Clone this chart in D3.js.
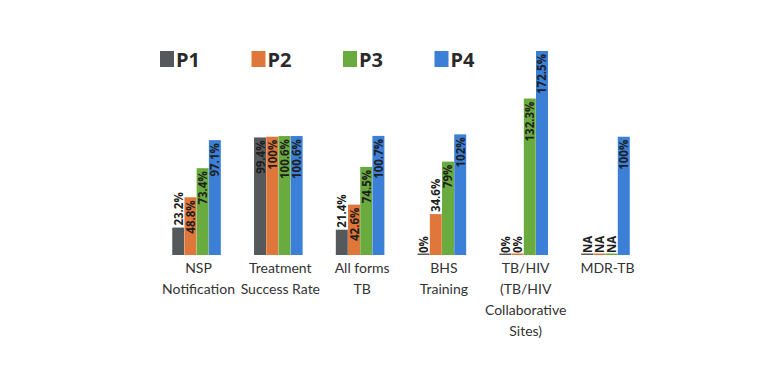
<!DOCTYPE html>
<html>
<head>
<meta charset="utf-8">
<script src="https://cdn.jsdelivr.net/npm/d3@7"></script>
<style>
  body { margin: 0; background: #fff; }
  svg { display: block; font-family: "Open Sans", sans-serif; }
</style>
</head>
<body>
<svg width="780" height="390"></svg>
<script>
"use strict";

const categories = [
    ["NSP", "Notification"],
    ["Treatment", "Success Rate"],
    ["All forms", "TB"],
    ["BHS", "Training"],
    ["TB/HIV", "(TB/HIV", "Collaborative", "Sites)"],
    ["MDR-TB"]
];
const seriesNames = ["P1", "P2", "P3", "P4"];
const p1 = [23.2, 99.4, 21.4, 0, 0, null];
const p2 = [48.8, 100, 42.6, 34.6, 0, null];
const p3 = [73.4, 100.6, 74.5, 79, 132.3, null];
const p4 = [97.1, 100.6, 100.7, 102, 172.5, 100];
const seriesValues = [p1, p2, p3, p4];
const colors = ["#55595c", "#e0773a", "#6aab3f", "#3b7fd6"];

window.addEventListener("load", drawChart);

function drawChart() {
    const svg = d3.select("svg");
    const baseline = 255;

    const x = d3.scaleBand()
        .domain(d3.range(categories.length))
        .range([172, 630])
        .paddingInner(0.4)
        .paddingOuter(0);

    const xInner = d3.scaleBand()
        .domain(d3.range(seriesNames.length))
        .range([0, x.bandwidth()])
        .padding(0.02);

    const y = d3.scaleLinear()
        .domain([0, 172.5])
        .range([baseline, 51]);

    const rows = [];
    categories.forEach((c, i) => {
        seriesValues.forEach((vals, s) => {
            rows.push({cat: i, s: s, v: vals[i]});
        });
    });

    const groups = svg.append("g");

    groups.selectAll("rect")
        .data(rows)
        .join("rect")
            .attr("x", d => x(d.cat) + xInner(d.s))
            .attr("width", xInner.bandwidth())
            .attr("y", d => Math.min(y(d.v || 0), baseline - 1.5))
            .attr("height", d => Math.max(baseline - y(d.v || 0), 1.5))
            .attr("fill", d => colors[d.s]);

    // value labels, rotated, inside the bar top if it fits
    groups.selectAll("text.val")
        .data(rows)
        .join("text")
            .attr("class", "val")
            .attr("font-size", 11.5)
            .attr("font-weight", "bold")
            .attr("fill", "#1e1e1e")
            .attr("dominant-baseline", "central")
            .attr("text-anchor", d => (baseline - y(d.v || 0)) > 45 ? "end" : "start")
            .attr("transform", d => {
                const cx = x(d.cat) + xInner(d.s) + xInner.bandwidth() / 2;
                const h = baseline - y(d.v || 0);
                const ty = h > 45 ? y(d.v) + 3 : y(d.v || 0) - 2;
                return `translate(${cx},${ty}) rotate(-90)`;
            })
            .text(d => d.v === null ? "NA" : d.v + "%");

    // category labels
    svg.append("g")
        .selectAll("text")
        .data(categories)
        .join("text")
            .attr("font-family", "Lato, sans-serif")
            .attr("font-size", 14)
            .attr("fill", "#333")
            .attr("text-anchor", "middle")
            .attr("x", (d, i) => x(i) + x.bandwidth() / 2 + 2)
            .attr("y", 273)
            .selectAll("tspan")
            .data(d => d)
            .join("tspan")
                .attr("x", function () { return this.parentNode.getAttribute("x"); })
                .attr("dy", (d, i) => i === 0 ? 0 : 21)
                .text(d => d);

    // legend
    const legend = svg.append("g")
        .selectAll("g")
        .data(seriesNames)
        .join("g")
            .attr("transform", (d, i) => `translate(${160 + i * 91.5},51)`);

    legend.append("rect")
        .attr("width", 14)
        .attr("height", 16)
        .attr("fill", (d, i) => colors[i]);

    legend.append("text")
        .attr("x", 16)
        .attr("y", 16)
        .attr("font-size", 20)
        .attr("font-weight", "bold")
        .attr("fill", "#2a2a2a")
        .text(d => d);
}
</script>
</body>
</html>
